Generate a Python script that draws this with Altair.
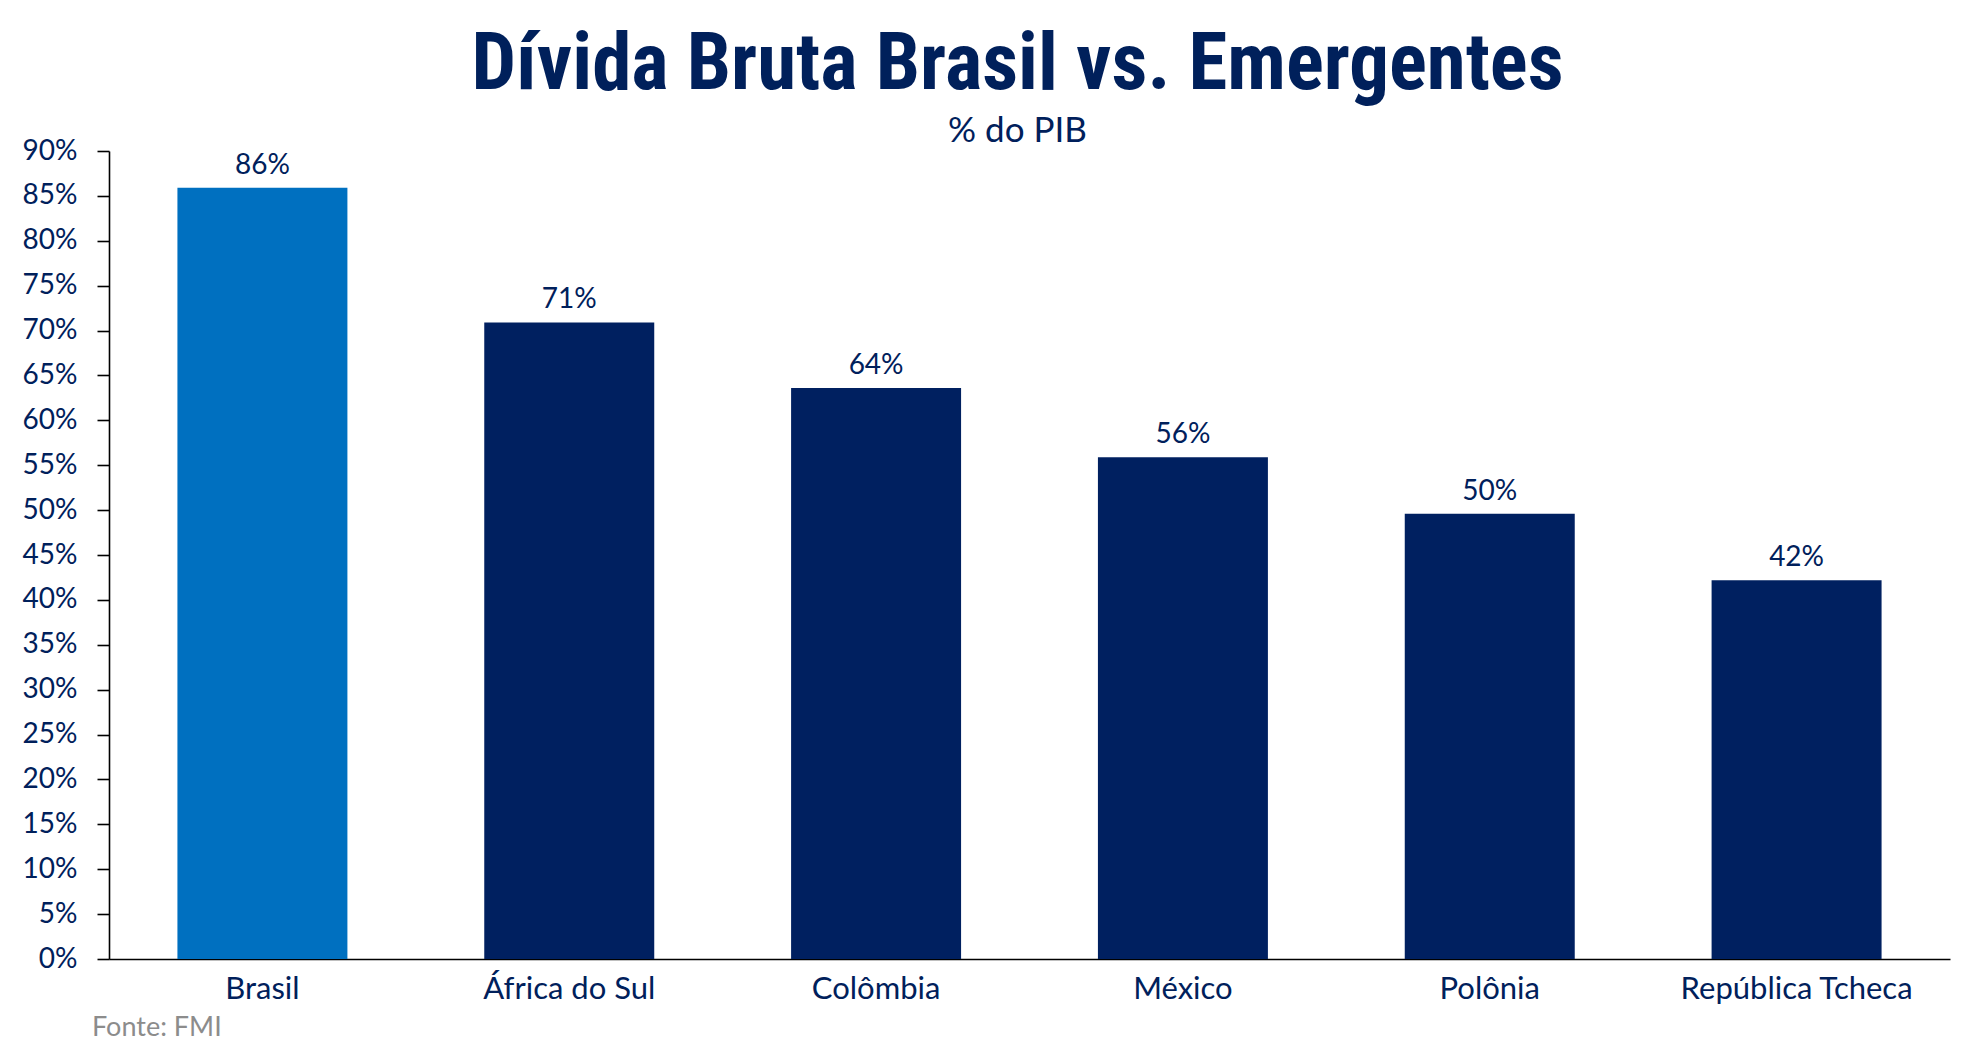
import altair as alt
import pandas as pd

paises = ["Brasil", "África do Sul", "Colômbia", "México", "Polônia", "República Tcheca"]
divida = [85.9, 70.9, 63.6, 55.9, 49.6, 42.2]
cores = ["#0070C0", "#002060", "#002060", "#002060", "#002060", "#002060"]
ticks_y = list(range(0, 95, 5))

df = pd.DataFrame({"pais": paises, "divida": divida, "cor": cores})

W, H = 1841, 808
NAVY = "#00205B"
FONT = "Lato"

base = alt.Chart(df).encode(
    x=alt.X("pais:N", sort=paises, title=None,
            scale=alt.Scale(paddingInner=0.446, paddingOuter=0.223),
            axis=alt.Axis(labelAngle=0, ticks=False, domainColor="black", domainWidth=1.6,
                          labelFont=FONT, labelFontSize=31, labelColor=NAVY, labelPadding=15,
                          labelLimit=0)),
    y=alt.Y("divida:Q", title=None,
            scale=alt.Scale(domain=[0, 90], nice=False),
            axis=alt.Axis(values=ticks_y, labelExpr="datum.value + '%'", grid=False,
                          domainColor="black", domainWidth=1.6, tickColor="black", tickWidth=1.6,
                          tickSize=12, labelFont=FONT, labelFontSize=28, labelColor=NAVY,
                          labelPadding=20)),
)

bars = base.mark_bar().encode(color=alt.Color("cor:N", scale=None, legend=None))

labels = base.mark_text(baseline="alphabetic", dy=-14, font=FONT, fontSize=28, color=NAVY).transform_calculate(
    lab="format(datum.divida, '.0f') + '%'"
).encode(text="lab:N")

fonte = alt.Chart(pd.DataFrame({"t": ["Fonte: FMI"]})).mark_text(
    align="left", baseline="alphabetic", font=FONT, fontSize=27, color="#8C8C8C"
).encode(x=alt.value(-17), y=alt.value(H + 77), text="t:N")

chart = alt.layer(bars, labels, fonte).properties(
    width=W, height=H,
    padding={"left": 101, "top": 143, "right": 5, "bottom": 95},
    autosize=alt.AutoSizeParams(type="none"),
    title=alt.TitleParams(
        text="Dívida Bruta Brasil vs. Emergentes",
        subtitle="% do PIB",
        anchor="middle", dx=-12,
        font="Liberation Sans Narrow, Roboto Condensed, Roboto", fontSize=79, fontWeight="bold",
        color=NAVY,
        subtitleFont=FONT, subtitleFontSize=35, subtitleColor=NAVY, subtitlePadding=8,
        offset=-13,
    ),
).configure_view(stroke=None)

chart.save("out.html", embed_options={"renderer": "svg", "actions": False})
